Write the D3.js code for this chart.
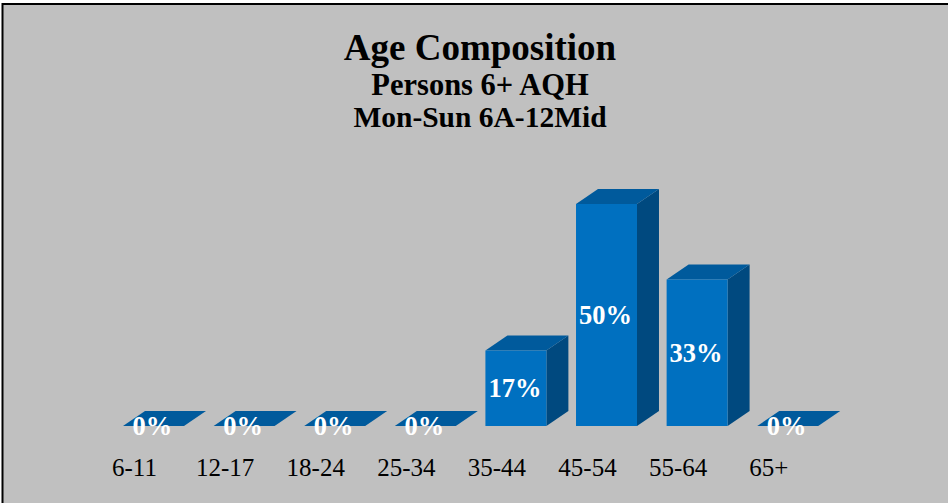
<!DOCTYPE html>
<html>
<head>
<meta charset="utf-8">
<script src="https://cdn.jsdelivr.net/npm/d3@7/dist/d3.min.js"></script>
<style>
html,body{margin:0;padding:0;background:#fff;}
svg{display:block;}
</style>
</head>
<body>
<svg id="chart" width="948" height="503"></svg>
<script>
const categories = ["6-11","12-17","18-24","25-34","35-44","45-54","55-64","65+"];
const values = [0,0,0,0,17,50,33,0];
const valueLabels = ["0%","0%","0%","0%","17%","50%","33%","0%"];
const titleLines = ["Age Composition","Persons 6+ AQH","Mon-Sun 6A-12Mid"];

const svg = d3.select("#chart");
const W = 948, H = 503;
const serif = "'Liberation Serif','Times New Roman',Times,serif";

// frame
svg.append("rect").attr("x",2.5).attr("y",4).attr("width",W+10).attr("height",H+10)
  .attr("fill","#c0c0c0").attr("stroke","#000").attr("stroke-width",2);

// titles
const titleY = [60, 95, 127];
const titleSize = [37, 30.5, 29.5];
svg.selectAll("text.title").data(titleLines).join("text")
  .attr("class","title")
  .attr("x",480).attr("y",(d,i)=>titleY[i])
  .attr("text-anchor","middle")
  .attr("font-family",serif).attr("font-weight","bold")
  .attr("font-size",(d,i)=>titleSize[i]+"px")
  .attr("fill","#000")
  .text(d=>d);

// scales
const x = d3.scaleBand().domain(categories).range([123, 123 + 7*90.6 + 61]).paddingInner(0.327).paddingOuter(0);
const y = d3.scaleLinear().domain([0,50]).range([426,204]);
const w = x.bandwidth();
const dx = 22, dy = -15;
const base = y(0);

const data = categories.map((c,i)=>({c, v:values[i], label:valueLabels[i]}));

const g = svg.append("g");
const bars = g.selectAll("g.bar").data(data).join("g").attr("class","bar");

// side face
bars.filter(d=>d.v>0).append("polygon")
  .attr("points", d=>{
    const x0 = x(d.c), yt = y(d.v);
    return [[x0+w,yt],[x0+w+dx,yt+dy],[x0+w+dx,base+dy],[x0+w,base]].map(p=>p.join(",")).join(" ");
  })
  .attr("fill","#00497f");

// top face
bars.append("polygon")
  .attr("points", d=>{
    const x0 = x(d.c), yt = y(d.v);
    return [[x0,yt],[x0+dx,yt+dy],[x0+w+dx,yt+dy],[x0+w,yt]].map(p=>p.join(",")).join(" ");
  })
  .attr("fill","#005a9c");

// front face
bars.filter(d=>d.v>0).append("rect")
  .attr("x", d=>x(d.c)).attr("y", d=>y(d.v))
  .attr("width", w).attr("height", d=>base - y(d.v))
  .attr("fill","#0070c0");

// value labels
bars.append("text")
  .attr("x", d=>x(d.c)+w/2-1)
  .attr("y", d=>(y(d.v)+base)/2 + 9)
  .attr("text-anchor","middle")
  .attr("font-family",serif).attr("font-weight","bold").attr("font-size","26.5px")
  .attr("fill","#fff")
  .text(d=>d.label);

// category axis labels
const axis = d3.axisBottom(x).tickSize(0).tickPadding(0);
const ax = svg.append("g").attr("transform","translate(11.5,476)").call(axis);
ax.select(".domain").remove();
ax.selectAll(".tick").attr("transform", d=>`translate(${x(d)},0)`);
ax.selectAll(".tick text").attr("x",0).attr("y",0).attr("dy",0).attr("text-anchor","middle")
  .attr("font-family",serif).attr("font-size","25px").attr("fill","#000");
</script>
</body>
</html>
